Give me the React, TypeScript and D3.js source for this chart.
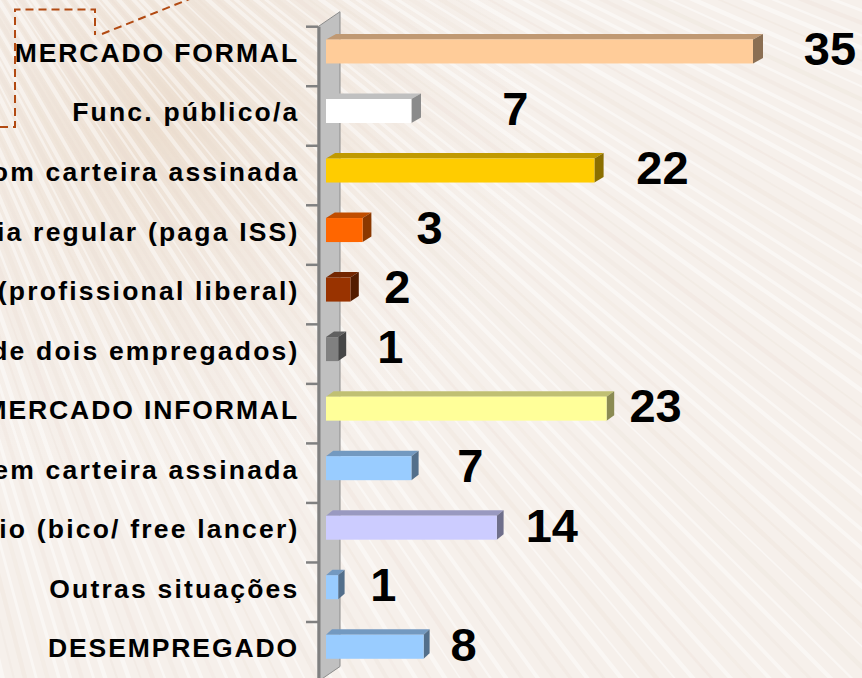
import React from "react";
import * as d3 from "d3";

// ---- data ----
const categories = [
  "MERCADO FORMAL",
  "Func. público/a",
  "Empregado/a com carteira assinada",
  "Conta própria regular (paga ISS)",
  "Conta própria (profissional liberal)",
  "Empregador/a (mais de dois empregados)",
  "MERCADO INFORMAL",
  "Empregado/a sem carteira assinada",
  "Trabalho temporário (bico/ free lancer)",
  "Outras situações",
  "DESEMPREGADO",
];
const values = [35, 7, 22, 3, 2, 1, 23, 7, 14, 1, 8];
const barColors = [
  "#ffcc99", "#ffffff", "#ffcc00", "#ff6600", "#993300", "#808080",
  "#ffff99", "#99ccff", "#ccccff", "#99ccff", "#99ccff",
];
// value label placement (offset of label centre past the bar end)
const labelNudge = [77, 104, 68, 67, 47, 52, 49, 59, 55, 45, 40];

const W = 862;
const H = 678;
const FONT = "'Liberation Sans', Arial, Helvetica, sans-serif";

export default function App() {
  const x = d3.scaleLinear().domain([0, 40]).range([326, 326 + 40 * 12.2]);
  const y = d3
    .scaleBand<number>()
    .domain(d3.range(categories.length))
    .range([26.7, 26.7 + 59.53 * categories.length])
    .paddingInner(0)
    .paddingOuter(0);
  const step = y.step();
  const wallL = 318;
  const wallR = 340;
  const slant = 15;
  const y0 = y.range()[0];
  const y1 = y.range()[1];
  const frontH = 24;
  const dy = 5.5;

  // background texture rays (deterministic)
  const rays = d3.range(0, 160).map((k) => {
    const ang = (10 + k * 0.55) * (Math.PI / 180);
    const cx = -260, cy = -420;
    const len = 2000;
    const w = 1.5 + 3 * Math.abs(Math.sin(k * 1.7));
    const light = Math.sin(k * 2.3) > -0.2;
    return {
      x1: cx, y1: cy,
      x2: cx + Math.cos(ang) * len,
      y2: cy + Math.sin(ang) * len,
      w,
      stroke: light ? "#ffffff" : "#e6d8cb",
      op: light ? 0.45 : 0.12 + 0.1 * Math.abs(Math.cos(k * 0.9)),
    };
  });

  const ticks = d3.range(categories.length + 1).map((i) => y0 + i * step);

  return (
    <div style={{ position: "fixed", left: 0, top: 0, width: W, height: H, overflow: "hidden" }}>
      <svg width={W} height={H} style={{ display: "block" }}>
        <defs>
          <radialGradient id="tan" cx="160" cy="120" r="380" gradientUnits="userSpaceOnUse">
            <stop offset="0%" stopColor="#e8d6c3" stopOpacity={0.7} />
            <stop offset="60%" stopColor="#eee2d6" stopOpacity={0.3} />
            <stop offset="100%" stopColor="#f5eee8" stopOpacity={0} />
          </radialGradient>
        </defs>
        <rect x={0} y={0} width={W} height={H} fill="#f6f0eb" />
        <rect x={0} y={0} width={W} height={H} fill="url(#tan)" />
        <g>
          {rays.map((r, i) => (
            <line key={i} x1={r.x1} y1={r.y1} x2={r.x2} y2={r.y2}
              stroke={r.stroke} strokeWidth={r.w} strokeOpacity={r.op} />
          ))}
        </g>

        {/* dashed callout */}
        <g fill="none" stroke="#b24a12" strokeWidth={2} strokeDasharray="8,5">
          <polyline points="0,127 15,127 15,9.5 95,9.5 95,35" />
          <line x1={102} y1={34} x2={192} y2={-2} />
        </g>

        {/* wall */}
        <polygon
          points={`${wallL},${y0} ${wallR},${y0 - slant} ${wallR},${y1 - slant} ${wallL},${y1}`}
          fill="#c0c0c0" stroke="#8c8c8c" strokeWidth={1} />
        <line x1={wallL + 1} y1={y0} x2={wallL + 1} y2={y1} stroke="#808080" strokeWidth={3} />
        {ticks.map((t, i) => (
          <line key={i} x1={306} x2={wallL} y1={t} y2={t} stroke="#808080" strokeWidth={2.5} />
        ))}

        {/* bars */}
        {values.map((v, i) => {
          const c = (y(i) as number) + step / 2 - 5;
          const top = c - frontH / 2;
          const bot = c + frontH / 2;
          const xs = x(0);
          const xe = x(v);
          const dx = 10 - (4 * i) / (categories.length - 1);
          const col = d3.color(barColors[i])!;
          const topCol = col.darker(0.8).formatHex();
          const sideCol = col.darker(1.7).formatHex();
          return (
            <g key={i}>
              <polygon points={`${xs},${top} ${xs + dx},${top - dy} ${xe + dx},${top - dy} ${xe},${top}`} fill={topCol} />
              <polygon points={`${xe},${top} ${xe + dx},${top - dy} ${xe + dx},${bot - dy} ${xe},${bot}`} fill={sideCol} />
              <rect x={xs} y={top} width={xe - xs} height={frontH} fill={barColors[i]} />
            </g>
          );
        })}

        {/* category labels */}
        {categories.map((c, i) => {
          const cy = (y(i) as number) + step / 2 - 5;
          const caps = c === c.toUpperCase();
          return (
            <text key={i} x={caps ? 299 : 299.5} y={cy + 10.5} textAnchor="end"
              fontFamily={FONT} fontWeight="bold" fontSize={26.5} letterSpacing={caps ? 1.9 : 2.2} fill="#000">
              {c}
            </text>
          );
        })}

        {/* value labels */}
        {values.map((v, i) => {
          const cy = (y(i) as number) + step / 2 - 5 - 3;
          return (
            <text key={i} x={x(v) + labelNudge[i]} y={cy + 0.358 * 47} textAnchor="middle"
              fontFamily={FONT} fontWeight="bold" fontSize={47} fill="#000">
              {v}
            </text>
          );
        })}
      </svg>
    </div>
  );
}
